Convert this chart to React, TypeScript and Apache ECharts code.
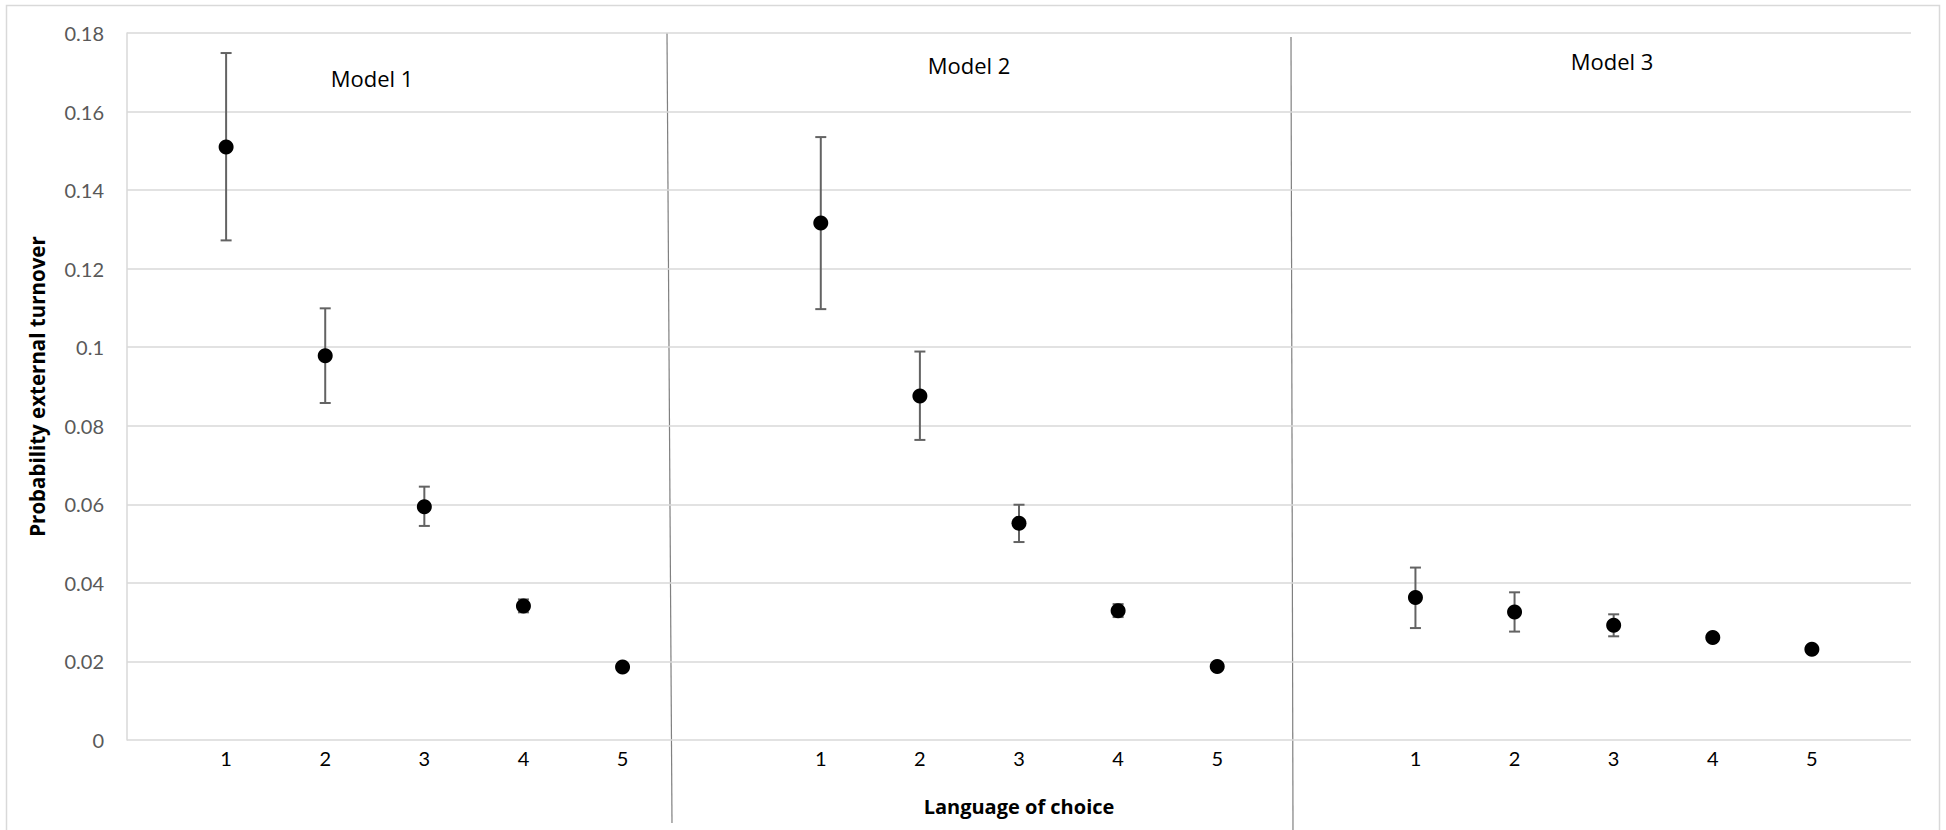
import React, { useEffect, useRef } from "react";
import * as echarts from "echarts";

// ---- Data ----
const models = ["Model 1", "Model 2", "Model 3"];
const languages = ["1", "2", "3", "4", "5"];

const model1Mean = [0.151, 0.0978, 0.0594, 0.0341, 0.0186];
const model1Low = [0.1272, 0.0858, 0.0545, 0.0325, 0.0179];
const model1High = [0.1749, 0.1099, 0.0645, 0.0358, 0.0194];

const model2Mean = [0.1316, 0.0876, 0.0552, 0.0329, 0.0187];
const model2Low = [0.1097, 0.0764, 0.0504, 0.0313, 0.018];
const model2High = [0.1535, 0.0989, 0.0599, 0.0346, 0.0194];

const model3Mean = [0.0363, 0.0326, 0.0292, 0.0261, 0.0231];
const model3Low = [0.0285, 0.0276, 0.0264, 0.0254, 0.0225];
const model3High = [0.0439, 0.0376, 0.032, 0.0268, 0.0237];

const yTicks = [0, 0.02, 0.04, 0.06, 0.08, 0.1, 0.12, 0.14, 0.16, 0.18];

const yAxisTitle = "Probability external turnover";
const xAxisTitle = "Language of choice";

const FONT = "Lato, 'Open Sans', 'DejaVu Sans', sans-serif";
const WIDE_FONT = "'Open Sans', Lato, 'DejaVu Sans', sans-serif";

export default function App() {
  const ref = useRef<HTMLDivElement>(null);

  useEffect(() => {
    if (!ref.current) return;
    const chart = echarts.init(ref.current, undefined, { renderer: "svg" });

    const means = [model1Mean, model2Mean, model3Mean];
    const lows = [model1Low, model2Low, model3Low];
    const highs = [model1High, model2High, model3High];
    const groupSize = languages.length + 1;

    const pointData: number[][] = [];
    const errData: number[][] = [];
    const labelMap: Record<number, string> = {};
    models.forEach((_, m) => {
      languages.forEach((lang, i) => {
        const x = m * groupSize + i + 1;
        labelMap[x] = lang;
        pointData.push([x, means[m][i]]);
        errData.push([x, lows[m][i], highs[m][i]]);
      });
    });
    const xMax = models.length * groupSize;

    const errStyle = { stroke: "#636363", lineWidth: 2 };

    const modelText = (i: number, x: number, y: number) => ({
      type: "text",
      x,
      y,
      style: {
        text: models[i],
        fontFamily: WIDE_FONT,
        fontSize: 22,
        fill: "#000",
        align: "center",
        verticalAlign: "middle",
      },
    });

    chart.setOption({
      animation: false,
      backgroundColor: "#ffffff",
      textStyle: { fontFamily: FONT },
      grid: { left: 127, right: 35, top: 33, bottom: 90, containLabel: false },
      xAxis: {
        type: "value",
        min: 0,
        max: xMax,
        interval: 1,
        name: xAxisTitle,
        nameLocation: "middle",
        nameGap: 56,
        nameTextStyle: { fontFamily: WIDE_FONT, fontWeight: "bold", fontSize: 20, color: "#000" },
        axisLine: { show: false },
        axisTick: { show: false },
        splitLine: { show: false },
        axisLabel: {
          margin: 8,
          fontFamily: FONT,
          fontSize: 20,
          color: "#000",
          showMinLabel: false,
          showMaxLabel: false,
          formatter: (v: number) => labelMap[Math.round(v)] ?? "",
        },
      },
      yAxis: {
        type: "value",
        min: yTicks[0],
        max: yTicks[yTicks.length - 1],
        interval: yTicks[1] - yTicks[0],
        name: yAxisTitle,
        nameLocation: "middle",
        nameRotate: 90,
        nameGap: 80,
        nameTextStyle: { fontFamily: WIDE_FONT, fontWeight: "bold", fontSize: 20.5, color: "#000" },
        axisLine: { show: true, lineStyle: { color: "#d9d9d9", width: 1.5 } },
        axisTick: { show: false },
        splitLine: { show: true, lineStyle: { color: "#d9d9d9", width: 1.5 } },
        axisLabel: {
          margin: 23,
          fontFamily: FONT,
          fontSize: 20,
          color: "#595959",
          formatter: (v: number) => String(parseFloat(v.toFixed(4))),
        },
      },
      graphic: [
        {
          type: "rect",
          shape: { x: 6.5, y: 5.5, width: 1933, height: 840 },
          style: { fill: "none", stroke: "#d9d9d9", lineWidth: 1.5 },
          silent: true,
        },
        {
          type: "line",
          shape: { x1: 667, y1: 33, x2: 672, y2: 823 },
          style: { stroke: "#808080", lineWidth: 1.2 },
          silent: true,
        },
        {
          type: "line",
          shape: { x1: 1291, y1: 37, x2: 1293, y2: 832 },
          style: { stroke: "#808080", lineWidth: 1.2 },
          silent: true,
        },
        modelText(0, 372, 78),
        modelText(1, 969, 65),
        modelText(2, 1612, 61),
      ],
      series: [
        {
          type: "custom",
          name: "CI",
          data: errData,
          encode: { x: 0, y: [1, 2] },
          z: 2,
          renderItem: (params: any, api: any) => {
            const x = api.value(0);
            const lo = api.coord([x, api.value(1)]);
            const hi = api.coord([x, api.value(2)]);
            const hw = 5.5;
            return {
              type: "group",
              children: [
                { type: "line", shape: { x1: lo[0], y1: lo[1], x2: hi[0], y2: hi[1] }, style: errStyle },
                { type: "line", shape: { x1: lo[0] - hw, y1: lo[1], x2: lo[0] + hw, y2: lo[1] }, style: errStyle },
                { type: "line", shape: { x1: hi[0] - hw, y1: hi[1], x2: hi[0] + hw, y2: hi[1] }, style: errStyle },
              ],
            };
          },
        },
        {
          type: "scatter",
          name: "Probability",
          data: pointData,
          symbol: "circle",
          symbolSize: 15,
          itemStyle: { color: "#000000", opacity: 1 },
          z: 3,
        },
      ],
    });

    return () => chart.dispose();
  }, []);

  return (
    <div
      ref={ref}
      style={{ position: "absolute", left: 0, top: 0, width: 1946, height: 830, background: "#fff" }}
    />
  );
}
